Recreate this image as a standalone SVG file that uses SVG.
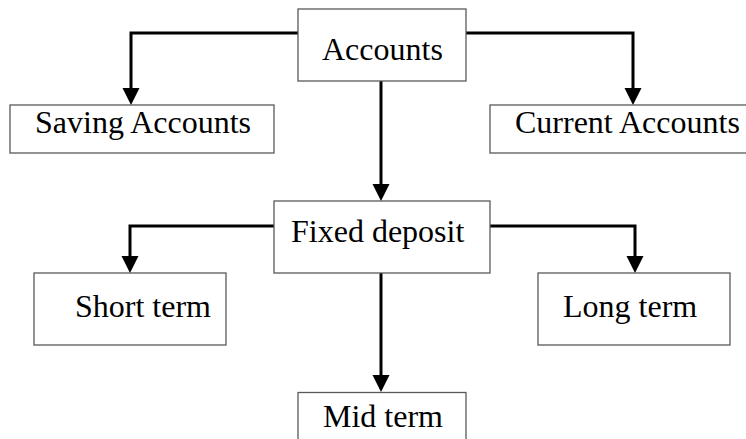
<svg xmlns="http://www.w3.org/2000/svg" width="746" height="439" viewBox="0 0 746 439">
<style>
.box{fill:#fff;stroke:#595959;stroke-width:1.3}
.lbl{font-family:"Liberation Serif","Times New Roman",serif;font-size:32px;fill:#000}
.con{fill:none;stroke:#000;stroke-width:3;marker-end:url(#ah)}
</style>
<defs>
<marker id="ah" markerUnits="userSpaceOnUse" markerWidth="18" markerHeight="18" refX="7" refY="8.5" orient="auto" viewBox="0 0 18 17">
<path d="M0,0 L17,8.5 L0,17 z" fill="#000"/>
</marker>
</defs>
<rect width="746" height="439" fill="#fff"/>
<g id="connectors">
<path class="con" d="M298,33 H131 V95"/>
<path class="con" d="M466,33 H633 V95"/>
<path class="con" d="M381,81 V191"/>
<path class="con" d="M274,226 H130 V263"/>
<path class="con" d="M490,226 H635 V263"/>
<path class="con" d="M381,273 V382"/>
</g>
<g id="accounts">
<rect class="box" x="298" y="9" width="168" height="72"/>
<text class="lbl" x="322" y="60">Accounts</text>
</g>
<g id="saving">
<rect class="box" x="10" y="105" width="264" height="48"/>
<text class="lbl" x="35" y="133">Saving Accounts</text>
</g>
<g id="current">
<rect class="box" x="490" y="105" width="270" height="48"/>
<text class="lbl" x="515" y="133">Current Accounts</text>
</g>
<g id="fixed">
<rect class="box" x="274" y="201" width="216" height="72"/>
<text class="lbl" x="291" y="242">Fixed deposit</text>
</g>
<g id="short">
<rect class="box" x="34" y="273" width="192" height="72"/>
<text class="lbl" x="75" y="317">Short term</text>
</g>
<g id="long">
<rect class="box" x="538" y="273" width="192" height="72"/>
<text class="lbl" x="563" y="317">Long term</text>
</g>
<g id="mid">
<rect class="box" x="298" y="392.5" width="168" height="60"/>
<text class="lbl" x="323" y="427">Mid term</text>
</g>
</svg>
